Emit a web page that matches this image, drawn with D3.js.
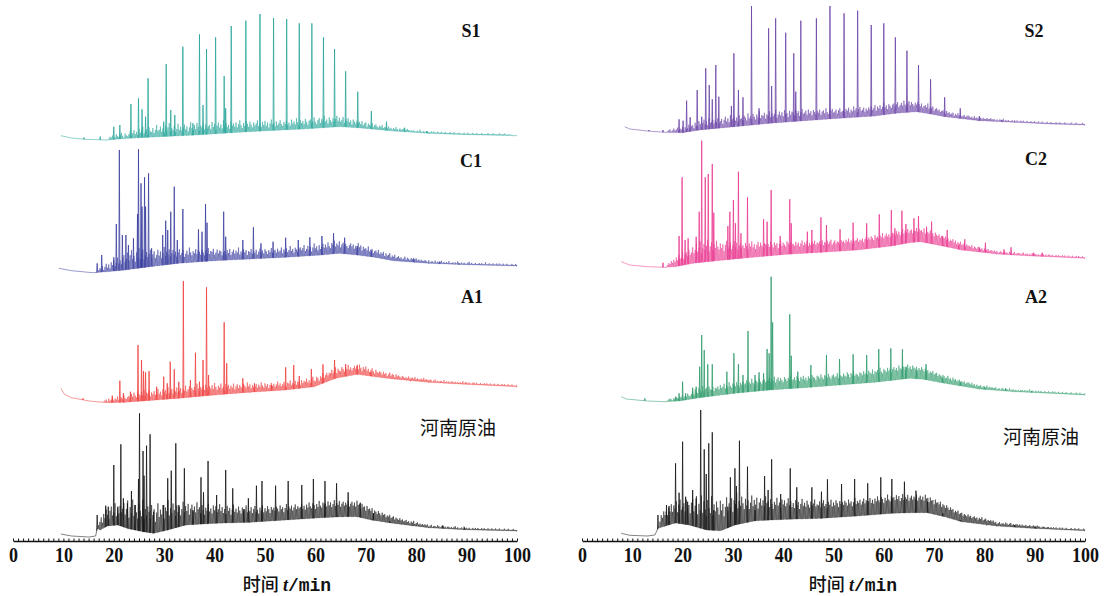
<!DOCTYPE html>
<meta charset="utf-8">
<head>
    <title>GC chromatograms</title>
</head>
<style>
    body { margin: 0; background: #fff; }
    .trace { fill: none; stroke-width: 0.8px; stroke-linejoin: round; }
    .grass { fill: none; stroke-width: 0.7px; stroke-opacity: 0.75; stroke-linejoin: round; }
    .tick text { font: bold 18px "Liberation Serif", serif; fill: #111; }
    .axis path.domain { stroke: #111; stroke-width: 1.6px; }
    .minor .tick line { stroke: #111; stroke-width: 1px; }
    .label { font: bold 18px "Liberation Serif", serif; fill: #111; text-anchor: middle; }
    .cn { font: 400 19px "Noto Sans CJK SC", sans-serif; fill: #111; text-anchor: middle; }
    .title { font-size: 18px; fill: #111; text-anchor: middle; }
</style>
<svg width="1105" height="596"></svg>
<script src="https://d3js.org/d3.v7.min.js"></script>
<script>

    // retention time tick labels (min)
    var tickLabels = [0, 10, 20, 30, 40, 50, 60, 70, 80, 90, 100];
    // unresolved background ("grass") is read at a fixed 0.25 min step
    var grassStep = 0.25;

    // ---- S1 ----
    var s1Base = [[9.5,4.3],[11.6,2],[14.4,0.7],[18.7,0],[22.9,1.7],[29.3,3.3],[36.4,5],[43.5,7.3],[50.6,9.3],[57.7,11],[64.8,13.3],[68.3,12.3],[75.4,9],[82.5,6.7],[89.6,5.3],[100,4.3]];
    var s1Peaks = [[14.1,2.5],[17.3,3.5],[20.0,13.3],[21.2,15],[23.4,36],[24.9,41.7],[25.6,30.7],[26.3,23.3],[26.8,61.7],[29.9,18.3],[30.4,76],[31.3,30],[32.1,25],[33.7,93.3],[35.7,16.7],[37.0,105.7],[37.7,35],[38.4,91],[40.2,102.7],[41.9,64],[42.2,31.7],[43.3,114],[46.2,119.3],[49.0,126],[51.7,122],[54.3,121],[56.8,116.7],[59.3,116.7],[61.6,102.7],[63.8,91],[66.0,68.7],[68.4,48.3],[71.1,29],[74.1,18.3],[77.7,12.3],[82.1,9]];
    var s1Grass = [
        1,3,2,4,1,2,5,3,2,4,6,3,1,5,3,2,4,7,3,5,
        8,4,6,3,9,5,7,11,4,6,8,3,10,6,5,9,4,7,12,6,
        7,10,5,8,4,11,6,9,13,5,8,6,10,4,7,12,6,9,5,8,
        11,6,9,4,8,13,7,5,10,6,12,8,4,9,7,11,5,10,6,8,
        9,5,12,7,10,4,8,11,6,9,5,13,7,10,6,8,4,11,7,9,
        6,10,5,8,12,7,4,9,6,11,8,5,10,7,4,9,6,8,11,5,
        7,4,9,6,10,5,8,3,7,11,6,8,4,9,5,7,10,6,4,8,
        6,9,5,7,4,10,6,8,5,11,7,4,9,6,8,5,10,7,4,8,
        9,5,7,11,6,4,8,10,5,9,7,12,6,8,4,10,7,5,9,6,
        8,11,6,9,5,7,10,4,8,6,9,5,7,3,8,6,4,7,5,6,
        4,7,3,5,6,2,5,4,3,6,2,4,5,3,2,4,3,5,2,3,
        3,2,4,2,3,1,3,2,4,2,1,3,2,2,3,1,2,3,2,1,
        2,1,2,1,1,2,1,3,1,1,2,1,1,2,1,1,2,1,2,1,
        1,2,1,1,2,1,1,2,1,1,1,2,1,1,2,1,1,1,2,1,
        1,1,2,1,1,2,1,1,1,2,1,1,2,1,1,1,2,1,1,1,
        1,2,1,1,1,2,1,1,1,1,2,1,1,1,2,1,1,1,1,1];

    // ---- C1 ----
    var c1Base = [[9.1,6.7],[11.6,4.3],[15.8,2.3],[18.7,3.3],[22.2,5],[27.2,8.3],[32.9,11.7],[40.0,14.3],[47.0,16],[54.1,17.7],[61.2,20],[64.7,21.7],[68.3,20],[71.8,17.7],[75.4,14.3],[82.5,11.7],[89.6,10.3],[100,9]];
    var c1Peaks = [[16.7,11.7],[17.6,20],[20.0,17.7],[20.5,51],[21.1,125],[21.7,40],[22.4,40],[22.9,30],[23.9,36.7],[24.7,61],[24.9,125.7],[25.4,91.7],[25.6,68.3],[26.1,97.7],[26.3,68.3],[26.9,101.7],[27.5,26.7],[29.7,40],[30.3,54.3],[30.7,45],[31.3,63.3],[32.0,88.3],[32.6,35],[33.7,66],[36.8,45.7],[37.5,43.3],[38.2,71],[38.5,52.3],[41.8,63.3],[42.2,38.3],[45.6,35],[47.7,47.7],[49.2,31.7],[51.6,33.3],[54.1,37.3],[56.6,35],[58.9,37.7],[61.3,39],[63.6,41.7],[65.8,37.3],[68.3,29],[71.1,24.3],[79.5,16.7],[84.6,13.3],[88.5,11.7]];
    var c1Grass = [
        2,4,3,6,2,5,8,4,7,3,9,6,11,5,8,13,7,10,6,12,
        15,8,11,17,9,14,19,10,13,7,16,11,20,9,14,18,8,12,15,10,
        13,17,9,12,15,8,11,16,10,14,7,12,18,9,13,10,15,8,11,14,
        9,12,7,11,14,8,10,13,6,9,12,8,15,10,7,11,9,13,8,12,
        10,7,12,9,6,11,8,13,7,10,9,12,6,8,11,7,10,9,5,8,
        9,6,10,7,11,5,8,10,6,9,7,12,5,8,6,10,7,9,4,8,
        7,10,5,8,6,9,4,7,10,6,8,5,9,7,4,8,6,10,5,7,
        8,5,9,6,7,10,4,8,6,9,5,7,11,6,8,4,9,7,5,8,
        9,6,8,11,5,7,10,6,9,4,8,12,7,9,5,10,6,8,11,7,
        10,7,12,8,6,11,9,13,7,10,8,12,6,9,11,7,10,8,6,9,
        11,8,10,6,9,7,12,8,10,5,9,7,8,6,10,5,7,8,4,6,
        7,5,8,4,6,5,7,3,6,4,5,7,3,5,4,6,3,4,5,3,
        4,2,3,5,2,4,3,2,4,3,2,3,4,2,3,2,3,2,2,3,
        2,1,3,1,2,2,1,3,1,2,1,2,3,1,2,1,2,1,3,1,
        1,2,1,2,1,3,1,1,2,1,2,1,1,2,3,1,2,1,1,2,
        1,1,2,1,2,1,1,3,1,1,2,1,1,2,1,1,2,1,2,1,
        1,2,1,1,2,1,1,1,2,1,1,2,1,1,1,2,1,1,1,1];

    // ---- A1 ----
    var a1Base = [[9.5,16.7],[10.2,10.7],[11.6,7.3],[15.1,4],[18.7,2.3],[22.2,2.7],[25.8,4],[32.9,6.7],[40.0,10],[47.0,12.7],[54.1,15],[59.8,18.3],[64.0,26.7],[68.3,30.7],[71.8,28.3],[75.4,26],[82.5,22.7],[89.6,20.7],[100,18.3]];
    var a1Peaks = [[13.9,6.7],[19.7,9.3],[21.2,24.3],[21.9,11.7],[23.3,13.3],[24.8,60],[25.5,45],[25.9,34],[26.3,32.7],[27.0,34],[28.5,18.3],[29.9,28.3],[30.6,21.7],[31.2,43.3],[32.0,35.7],[32.9,23.3],[33.8,124],[35.2,25],[36.2,52.3],[37.0,23.3],[37.7,45],[38.4,117.7],[38.8,30],[41.9,82.7],[42.4,41.7],[45.6,26.7],[47.9,21.7],[51.3,20],[54.1,37.7],[55.7,40],[56.8,29],[59.2,36],[61.5,40.7],[63.8,45],[66.0,41],[68.3,40],[71.0,32.7],[78.9,24]];
    var a1Grass = [
        1,2,3,1,4,2,3,5,2,4,3,6,2,4,5,3,7,4,3,5,
        6,4,8,5,9,6,4,10,7,5,9,6,11,5,8,7,10,4,8,6,
        9,5,7,11,6,8,4,10,7,9,5,12,6,8,10,5,9,7,11,6,
        8,10,5,9,7,12,6,8,11,5,9,7,10,6,13,8,5,9,7,10,
        6,11,8,5,9,7,10,6,12,8,5,9,7,11,6,8,4,10,7,9,
        5,8,6,10,4,7,9,5,8,6,4,9,7,5,10,6,8,4,7,5,
        6,8,4,7,5,9,6,4,8,5,7,3,6,8,5,7,4,6,9,5,
        7,4,6,8,5,3,7,6,9,4,6,5,8,4,7,6,3,8,5,7,
        6,9,5,7,4,8,10,6,5,9,7,4,8,6,10,5,7,9,6,8,
        7,10,6,8,11,5,9,7,6,10,8,5,9,7,11,6,8,5,7,9,
        6,8,5,10,7,4,8,6,9,5,7,4,6,8,5,3,7,5,4,6,
        5,3,6,4,5,2,4,6,3,5,4,2,5,3,4,3,2,4,3,2,
        3,2,4,2,3,3,2,4,2,3,2,2,3,2,4,2,3,2,2,3,
        2,1,2,3,1,2,1,2,2,1,3,1,2,1,2,1,2,2,1,2,
        1,2,1,2,1,3,1,2,2,1,2,1,1,2,2,1,2,1,1,2,
        1,1,2,1,2,1,1,2,1,1,2,1,1,2,1,1,2,1,2,1,
        1,2,1,1,2,1,1,1,2,1,1,2,1,1,1,2,1,1,1,1];

    // ---- 河南原油 (left) ----
    var o1Base = [[9.5,6],[11.6,4],[15.1,3],[16.4,4],[16.7,11.7],[17.3,10],[18.7,14],[20.8,15],[22.9,11.3],[25.8,8.3],[27.9,6.7],[30.7,10],[34.3,15],[40.0,16.7],[47.0,17.7],[54.1,20],[61.2,22.3],[65.5,23.3],[68.3,23.3],[71.1,20],[75.4,16.7],[82.5,12.3],[89.6,10.3],[100,9]];
    var o1Peaks = [[16.7,25],[18.4,34.3],[18.9,33.3],[20.0,75],[20.8,33.3],[21.4,95.7],[21.9,41.7],[22.7,36.7],[23.5,49],[24.2,35],[24.9,61],[25.1,126.7],[25.8,89],[26.0,64.3],[26.5,94.3],[27.2,105.7],[27.9,28.3],[29.9,35],[30.7,61.7],[31.4,69.3],[32.3,96.7],[32.9,35],[34.0,71.7],[35.7,30],[37.3,62.7],[37.8,47.7],[38.7,79],[40.4,45],[42.2,70],[43.6,51.7],[45.8,31],[46.7,41.7],[48.3,54.3],[49.4,59],[52.1,54.3],[54.6,59],[57.3,55],[59.6,61],[61.9,59],[64.2,56.7],[66.5,47.7],[68.9,37.3],[71.5,26.7],[74.7,19],[79.3,15],[85.3,14.3],[89.6,12.3]];
    var o1Grass = [
        4,8,12,6,14,9,17,11,7,15,19,10,13,22,9,16,12,20,14,18,
        24,13,19,28,11,22,16,30,14,25,18,12,27,20,15,32,13,23,17,26,
        21,14,28,18,24,11,20,29,15,22,17,26,12,23,19,30,14,21,16,25,
        18,12,22,15,20,11,17,24,13,19,14,21,10,16,20,13,18,12,22,15,
        17,11,19,14,9,16,13,20,12,15,10,18,13,17,11,14,19,12,16,10,
        14,9,17,12,15,8,13,18,11,14,10,16,12,9,15,11,13,17,10,12,
        11,15,9,13,16,10,12,8,14,11,16,9,13,10,15,12,8,14,11,13,
        10,14,12,9,15,11,13,8,12,16,10,13,11,14,9,12,15,10,13,11,
        12,15,10,13,9,14,11,16,12,10,15,13,9,14,11,17,12,10,15,13,
        14,11,16,12,15,10,13,17,11,14,12,16,10,13,15,11,14,12,16,10,
        13,15,11,14,10,16,12,13,9,14,11,12,8,13,10,11,9,12,7,10,
        9,7,10,8,6,9,7,8,5,7,6,8,5,6,7,4,6,5,4,6,
        4,5,3,4,5,3,4,2,4,3,5,2,3,4,2,3,2,3,2,3,
        2,3,1,2,3,1,2,2,1,3,2,1,2,3,1,2,1,2,2,1,
        2,1,2,3,1,2,1,1,2,1,3,1,2,1,2,1,1,2,1,2,
        1,2,1,1,2,1,2,1,1,2,1,1,2,1,1,2,1,1,2,1,
        1,1,2,1,1,2,1,1,1,2,1,1,1,2,1,1,1,1,2,1];

    // ---- S2 ----
    var s2Base = [[8.5,7.3],[9.5,5],[13.0,3],[16.5,1.7],[20.0,1.3],[23.4,4],[30.4,7.3],[37.3,10.7],[44.3,13.3],[51.2,15.7],[58.2,18],[62.3,20.7],[66.5,22.3],[69.3,20],[72.1,17.3],[79.0,13.3],[86.0,11.7],[92.9,10],[100,9]];
    var s2Peaks = [[13.3,4],[16.1,4],[19.3,14.7],[20.1,13.3],[20.8,33.3],[21.5,16.7],[22.9,44],[23.8,17.3],[24.6,65.7],[25.3,49],[25.9,34.7],[26.6,69],[27.2,37.3],[29.7,28],[30.2,80.7],[31.1,44],[32.0,36.7],[33.7,128],[35.2,25.7],[37.1,105.7],[37.7,48],[38.5,115.7],[40.5,101.3],[42.1,80.7],[42.5,42.3],[43.5,113.3],[46.6,115.7],[49.3,128],[52.1,120.7],[54.8,123.3],[57.5,109],[60.0,110.7],[62.3,96.7],[64.6,83.3],[66.9,69],[69.3,54.7],[72.1,36.7],[75.2,25.7],[79.0,18],[83.5,14]];
    var s2Grass = [
        1,2,3,1,2,4,2,3,5,2,4,3,6,2,5,3,4,7,3,5,
        6,3,8,5,4,9,6,3,7,10,5,8,4,11,6,7,9,5,8,6,
        10,5,7,9,4,8,11,6,9,5,12,7,8,10,6,9,5,11,7,8,
        6,10,8,5,12,7,9,6,11,8,5,10,7,13,6,9,8,11,5,9,
        8,12,6,10,7,9,13,5,8,11,7,10,6,12,8,9,5,11,7,10,
        9,6,11,8,10,5,9,12,7,8,10,6,11,7,9,5,10,8,6,9,
        7,10,5,8,9,6,11,7,5,9,8,10,6,7,9,5,8,10,6,7,
        8,6,9,7,10,5,8,6,11,7,9,5,8,10,6,7,9,5,8,6,
        9,7,10,6,8,11,5,9,7,10,6,8,12,7,9,5,10,8,6,9,
        10,7,9,11,6,8,10,7,12,8,6,9,11,7,10,8,6,9,7,10,
        8,6,9,5,7,8,6,10,5,7,6,8,4,6,7,5,6,4,5,6,
        5,3,6,4,5,3,4,5,2,4,3,5,3,4,2,3,4,2,3,4,
        3,2,3,2,4,2,3,2,2,3,2,3,2,2,3,2,2,3,2,2,
        2,1,2,1,2,2,1,3,1,2,1,2,1,1,2,1,2,1,2,1,
        1,2,1,2,1,1,2,1,1,2,1,1,2,1,1,2,1,1,2,1,
        1,1,2,1,1,2,1,1,1,2,1,1,2,1,1,1,2,1,1,1,
        1,2,1,1,1,2,1,1,1,1,2,1,1,1,2,1,1,1,1,1];

    // ---- C2 ----
    var c2Base = [[7.8,6.3],[9.5,3],[13.0,1.3],[16.5,0.7],[18.6,1.3],[22.0,4.7],[26.9,7.3],[33.9,10.7],[40.8,13.7],[47.7,15.7],[54.7,18],[61.6,22],[65.1,25.3],[67.2,26.3],[70.7,23],[75.5,18],[82.5,14],[89.4,12],[100,9.7]];
    var c2Peaks = [[16.1,5.3],[19.3,32],[19.9,90.7],[20.5,28],[21.1,29.7],[22.7,31.3],[23.3,56.3],[23.8,127.3],[24.5,90.7],[25.1,94],[25.9,104],[26.2,55.3],[29.0,42],[29.4,56.3],[30.1,68],[30.5,44.7],[31.1,96.3],[31.6,34.7],[32.9,70.7],[36.1,48.7],[36.8,46.3],[37.6,78],[39.4,32],[41.3,68.7],[41.6,44.7],[44.8,36.3],[45.7,38],[47.5,50.7],[48.6,43],[51.3,38.7],[53.9,45.3],[56.6,44.7],[59.1,53.7],[61.5,58],[62.2,39.7],[63.6,57.3],[64.4,44],[66.0,49.7],[66.9,52],[68.5,41.3],[69.5,46.3],[71.7,32],[72.6,38],[74.9,23],[76.1,28.7],[79.0,20.7],[80.2,25.3],[83.9,18.7],[85.3,20.7],[89.8,15.3],[91.5,15.3]];
    var c2Grass = [
        2,4,3,6,4,7,5,9,6,11,7,8,13,6,10,12,8,14,9,11,
        16,10,13,19,11,15,21,9,14,18,12,16,22,10,15,19,11,17,13,20,
        14,11,17,12,16,9,15,19,11,13,17,10,14,18,12,16,9,13,15,11,
        13,10,15,12,9,14,11,16,10,13,8,12,15,10,14,11,9,13,12,10,
        12,9,14,11,8,13,10,12,7,11,14,9,12,10,8,13,11,9,12,10,
        10,8,12,9,11,7,10,13,8,11,9,12,7,10,8,11,9,12,8,10,
        9,11,8,12,7,10,9,11,8,10,12,7,9,11,8,10,9,7,11,9,
        10,8,11,9,12,8,10,7,11,9,10,12,8,10,9,11,7,10,12,9,
        11,9,12,10,8,13,10,11,9,12,10,14,9,11,13,10,12,9,11,13,
        12,10,14,11,13,9,12,15,10,13,11,14,10,12,13,9,12,11,14,10,
        13,11,12,10,14,9,12,11,10,13,9,11,8,12,10,9,11,8,10,9,
        8,10,7,9,6,8,7,9,6,8,5,7,6,8,5,6,7,4,6,5,
        5,4,6,3,5,4,3,5,4,3,4,2,4,3,3,4,2,3,3,2,
        3,2,3,1,2,3,2,1,3,2,2,1,3,2,1,2,3,1,2,2,
        2,1,2,3,1,2,2,1,2,1,3,1,2,2,1,2,1,2,1,2,
        1,2,1,2,2,1,2,1,1,2,1,2,1,1,2,1,2,1,1,2,
        1,1,2,1,1,2,1,2,1,1,2,1,1,1,2,1,1,2,1,1];

    // ---- A2 ----
    var a2Base = [[7.8,8.3],[8.8,6],[13.0,4],[16.5,3.3],[19.3,4],[23.4,7.3],[30.4,11.7],[37.3,15],[44.3,17.3],[51.2,20],[58.2,22.7],[62.3,25],[65.1,26.7],[67.9,25.7],[72.1,21.7],[79.0,16],[86.0,13.3],[92.9,11.7],[100,10]];
    var a2Peaks = [[12.5,6.7],[18.6,8.3],[19.3,11.7],[20.0,23.3],[20.6,11.7],[22.0,17.3],[22.7,18.3],[23.4,38.3],[23.8,70],[24.3,55],[25.0,40.7],[25.9,40.7],[28.8,33.3],[30.2,51.7],[31.1,40.7],[32.0,30],[33.0,74],[34.4,30],[35.2,32.7],[36.1,31.7],[36.8,56],[37.2,51.7],[37.6,128.3],[37.9,82.7],[41.3,90.7],[41.6,49.3],[42.9,33.3],[45.5,40],[48.6,50],[51.2,46],[53.9,50.7],[56.6,50],[59.0,56],[61.4,56.7],[63.7,55.7],[64.4,38.3],[66.5,34],[68.4,40.7],[71.7,26.7],[75.2,23.3],[80.1,17.3],[84.2,16.7],[89.4,14]];
    var a2Grass = [
        1,2,3,2,1,3,2,4,3,2,4,3,5,2,4,3,6,4,3,5,
        7,4,9,6,5,10,7,5,11,6,8,9,5,10,7,6,9,5,8,7,
        9,6,10,7,8,11,6,9,7,12,8,6,10,9,7,11,8,6,10,8,
        11,8,9,12,7,10,8,13,9,7,11,10,8,12,9,7,10,11,8,9,
        10,12,8,11,9,13,7,10,12,8,11,9,7,12,10,8,11,9,13,8,
        9,11,8,12,10,7,11,9,12,8,10,7,11,9,8,12,10,9,7,11,
        10,8,12,9,7,11,10,8,12,9,7,10,11,8,9,12,7,10,9,8,
        11,9,8,12,10,7,11,9,13,8,10,9,7,11,10,8,12,9,10,8,
        12,10,9,13,8,11,10,12,9,14,10,8,12,11,9,13,10,12,8,11,
        13,10,12,9,14,11,10,13,12,9,11,14,10,12,9,13,11,10,12,9,
        11,9,12,10,8,11,9,10,7,9,8,10,7,8,9,6,8,7,6,8,
        7,5,6,8,5,6,4,7,5,6,4,5,6,3,5,4,5,3,4,5,
        4,3,5,3,4,2,4,3,3,4,2,3,3,2,4,2,3,2,3,2,
        2,3,1,2,2,1,3,2,1,2,2,1,3,1,2,2,1,2,1,2,
        1,2,2,1,2,1,2,1,3,1,2,1,1,2,1,2,1,2,1,1,
        2,1,1,2,1,1,2,1,2,1,1,2,1,1,2,1,1,2,1,1,
        1,2,1,1,1,2,1,1,2,1,1,1,2,1,1,1,2,1,1,1];

    // ---- 河南原油 (right) ----
    var o2Base = [[7.8,6.7],[9.5,4.7],[13.0,4],[14.5,5],[15.1,11.7],[16.5,14],[18.6,17],[21.3,15],[24.8,10],[27.6,9.3],[30.4,15],[34.5,19.3],[40.8,20.7],[47.7,21.7],[54.7,24],[61.6,26.7],[65.8,27.3],[68.6,27.3],[72.1,23.3],[75.5,18.3],[82.5,14],[89.4,11.7],[100,9.3]];
    var o2Peaks = [[15.1,25],[16.8,35],[17.3,34],[18.6,76.7],[19.3,47.3],[20.0,98.3],[20.6,43.3],[21.0,38.3],[22.0,50],[22.7,41.7],[23.6,130],[24.3,90.7],[24.7,66],[25.2,96.7],[25.9,107.7],[26.2,30],[29.0,33.3],[29.5,62.7],[30.4,71.7],[30.7,54],[31.3,99.3],[32.9,73.3],[34.4,30],[36.3,64],[37.0,50],[37.7,80.7],[39.5,46],[41.4,71.7],[42.7,52.7],[45.7,52.7],[47.6,48.3],[48.8,60.7],[51.6,56],[54.2,61],[56.8,56.7],[59.4,62.7],[61.6,61],[64.1,58.3],[66.4,49.3],[68.7,38.3],[71.7,26.7],[75.2,20],[80.4,15],[86.0,15],[90.1,13.3]];
    var o2Grass = [
        6,12,9,15,11,14,
        10,17,13,20,12,18,15,22,11,19,24,14,17,21,13,25,16,20,12,23,
        27,15,21,31,13,24,18,33,16,28,20,14,30,22,17,34,15,26,19,29,
        23,16,30,20,26,13,22,31,17,24,19,28,14,25,21,32,16,23,18,27,
        20,14,24,17,22,13,19,26,15,21,16,23,12,18,22,15,20,14,24,17,
        19,13,21,16,11,18,15,22,14,17,12,20,15,19,13,16,21,14,18,12,
        16,11,19,14,17,10,15,20,13,16,12,18,14,11,17,13,15,19,12,14,
        13,17,11,15,18,12,14,10,16,13,18,11,15,12,17,14,10,16,13,15,
        12,16,14,11,17,13,15,10,14,18,12,15,13,16,11,14,17,12,15,13,
        14,17,12,15,11,16,13,18,14,12,17,15,11,16,13,19,14,12,17,15,
        16,13,18,14,17,12,15,19,13,16,14,18,12,15,17,13,16,14,18,12,
        15,17,13,16,12,18,14,15,11,16,13,14,10,15,12,13,11,14,9,12,
        11,9,12,10,8,11,9,10,7,9,8,10,7,8,9,6,8,7,6,8,
        6,7,5,6,7,5,6,4,6,5,7,4,5,6,4,5,4,5,4,5,
        3,4,2,3,4,2,3,3,2,4,3,2,3,4,2,3,2,3,3,2,
        3,2,3,2,2,3,2,2,3,2,2,3,2,2,3,2,2,1,2,2,
        2,1,2,2,1,2,1,2,1,2,1,1,2,1,2,1,1,2,1,1,
        1,2,1,1,2,1,1,2,1,1,1,2,1,1,2,1,1,1,2,1];

    var svg = d3.select("svg");

    var panels = [
        { x: d3.scaleLinear().domain([0, 100]).range([13, 517]), titleX: 287 },
        { x: d3.scaleLinear().domain([0, 100]).range([582, 1085]), titleX: 853 }
    ];

    var traces = [
        { name: "S1", panel: 0, color: "#2aa69b", floor: 140, base: s1Base, peaks: s1Peaks, grass: s1Grass, g0: 19, lx: 471, ly: 31 },
        { name: "C1", panel: 0, color: "#3b409f", floor: 275, base: c1Base, peaks: c1Peaks, grass: c1Grass, g0: 17, lx: 471, ly: 161 },
        { name: "A1", panel: 0, color: "#f0403f", floor: 405, base: a1Base, peaks: a1Peaks, grass: a1Grass, g0: 18, lx: 472, ly: 297 },
        { name: "河南原油", panel: 0, color: "#141414", floor: 540, base: o1Base, peaks: o1Peaks, grass: o1Grass, g0: 17, lx: 458, ly: 428, cn: true },
        { name: "S2", panel: 1, color: "#6b44a6", floor: 134, base: s2Base, peaks: s2Peaks, grass: s2Grass, g0: 17, lx: 1034, ly: 31 },
        { name: "C2", panel: 1, color: "#ea3b92", floor: 268, base: c2Base, peaks: c2Peaks, grass: c2Grass, g0: 17, lx: 1036, ly: 159 },
        { name: "A2", panel: 1, color: "#2f9b6b", floor: 405, base: a2Base, peaks: a2Peaks, grass: a2Grass, g0: 17, lx: 1036, ly: 297 },
        { name: "河南原油", panel: 1, color: "#141414", floor: 540, base: o2Base, peaks: o2Peaks, grass: o2Grass, g0: 15.5, lx: 1041, ly: 437, cn: true }
    ];

    traces.forEach(function(tr) {
        var x = panels[tr.panel].x;
        var y = d3.scaleLinear().domain([0, 130]).range([tr.floor, tr.floor - 130]);
        var baseAt = d3.scaleLinear()
            .domain(tr.base.map(function(d) { return d[0]; }))
            .range(tr.base.map(function(d) { return d[1]; }));
        var t0 = tr.base[0][0], t1 = tr.base[tr.base.length - 1][0];
        var line = d3.line()
            .x(function(d) { return x(d[0]); })
            .y(function(d) { return y(d[1]); });

        // baseline with the unresolved background spikes on it
        var ev = tr.base.map(function(d) { return { t: d[0], pts: [[d[0], d[1]]] }; });
        tr.grass.forEach(function(h, i) {
            var t = tr.g0 + i * grassStep;
            ev.push({ t: t, pts: [[t - 0.08, baseAt(t - 0.08)], [t, baseAt(t) + h], [t + 0.08, baseAt(t + 0.08)]] });
        });
        ev.sort(function(a, b) { return a.t - b.t; });
        var pts = [];
        ev.forEach(function(e) {
            e.pts.forEach(function(p) { if (p[0] >= t0 && p[0] <= t1) pts.push(p); });
        });

        svg.append("path")
            .attr("class", "grass")
            .attr("stroke", tr.color)
            .attr("d", line(pts));

        // resolved peaks
        svg.append("path")
            .attr("class", "trace")
            .attr("stroke", tr.color)
            .attr("d", tr.peaks.map(function(p) {
                return line([[p[0] - 0.1, baseAt(p[0] - 0.1)], [p[0], p[1]], [p[0] + 0.1, baseAt(p[0] + 0.1)]]);
            }).join(""));

        svg.append("text")
            .attr("class", tr.cn ? "cn" : "label")
            .attr("x", tr.lx)
            .attr("y", tr.ly)
            .attr("dy", "0.35em")
            .text(tr.name);
    });

    panels.forEach(function(p) {
        var g = svg.append("g").attr("class", "axis").attr("transform", "translate(0,541)");
        g.call(d3.axisBottom(p.x).tickValues(tickLabels).tickSize(0).tickFormat(d3.format("d")));
        // digits in the source are tall and narrow
        g.selectAll(".tick text")
            .attr("y", 0).attr("dy", 0)
            .attr("transform", "translate(0,21) scale(1,1.2)");

        var m = svg.append("g").attr("class", "axis minor").attr("transform", "translate(0,541)");
        m.call(d3.axisBottom(p.x).ticks(100).tickSize(-2.5).tickFormat(""));
        m.select(".domain").remove();

        var title = svg.append("text")
            .attr("class", "title")
            .attr("x", p.titleX)
            .attr("y", 591);
        title.append("tspan").style("font-family", "'Noto Sans CJK SC'").style("font-weight", 500).text("时间 ");
        title.append("tspan").style("font-family", "'Liberation Serif'").style("font-weight", "bold").style("font-style", "italic").text("t");
        title.append("tspan").style("font-family", "'Liberation Mono'").style("font-weight", "bold").text("/min");
    });

</script>
